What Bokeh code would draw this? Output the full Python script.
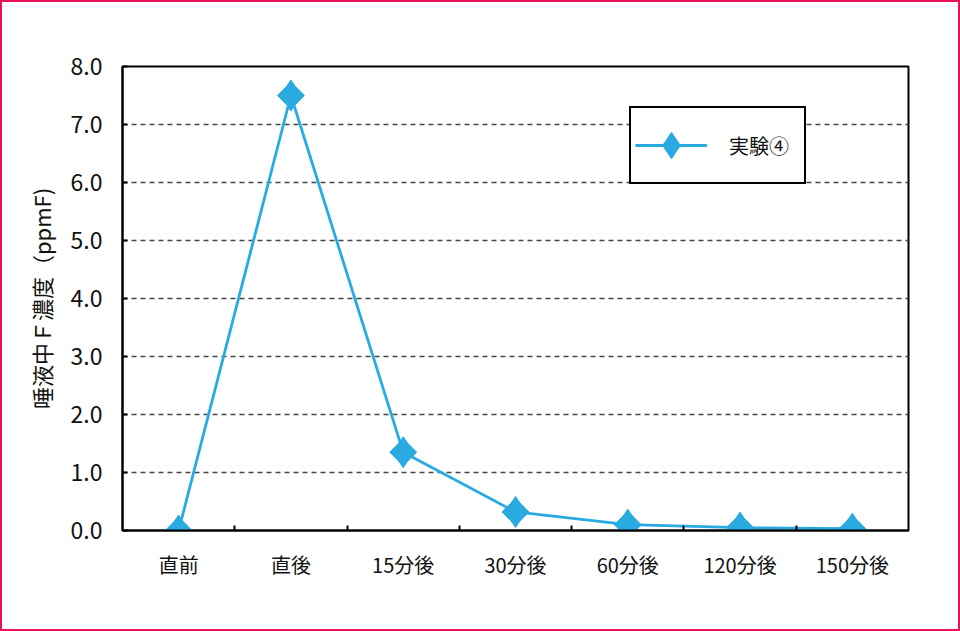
import math
from bokeh.plotting import figure
from bokeh.models import (ColumnDataSource, FixedTicker, Range1d, Legend, LegendItem,
                          NumeralTickFormatter)
from bokeh.embed import file_html
from bokeh.resources import INLINE

categories = ["直前", "直後", "15分後", "30分後", "60分後", "120分後", "150分後"]
values = [0.0, 7.5, 1.35, 0.32, 0.10, 0.05, 0.03]
y_ticks = [0, 1, 2, 3, 4, 5, 6, 7, 8]
series_name = "実験④"

FONT = "Noto Sans CJK JP"
BLUE = "#29ABE2"

xs = [i + 0.5 for i in range(len(categories))]
src = ColumnDataSource(dict(x=xs, y=values))

p = figure(width=960, height=631, output_backend="svg", toolbar_location=None,
           x_range=Range1d(0, len(categories)), y_range=Range1d(0, 8),
           min_border_left=120, min_border_right=54, min_border_top=64,
           min_border_bottom=103)
p.styles = {"border": "2px solid #E8115B", "box-sizing": "border-box"}
p.background_fill_color = "white"
p.border_fill_color = "white"
p.outline_line_color = "black"
p.outline_line_width = 2

line = p.line("x", "y", source=src, line_color=BLUE, line_width=2.8)
pts = p.scatter("x", "y", source=src, marker="square", angle=math.pi / 4, size=19,
                fill_color=BLUE, line_color=BLUE)
dia = p.scatter("x", "y", source=src, marker="diamond", size=31,
                fill_color=BLUE, line_color=BLUE)

# x axis
xa = p.xaxis[0]
xa.ticker = FixedTicker(ticks=xs, minor_ticks=[1, 2, 3, 4, 5, 6])
xa.major_label_overrides = {x: c for x, c in zip(xs, categories)}
xa.major_tick_line_color = None
xa.minor_tick_in = 5
xa.minor_tick_out = 0
xa.minor_tick_line_width = 2
xa.minor_tick_line_color = "black"
xa.axis_line_color = "black"
xa.axis_line_width = 2
xa.major_label_standoff = 13
xa.major_label_text_font = FONT
xa.major_label_text_font_size = "20px"
xa.major_label_text_color = "#111111"

# y axis
ya = p.yaxis[0]
ya.ticker = FixedTicker(ticks=y_ticks)
ya.formatter = NumeralTickFormatter(format="0.0")
ya.major_tick_in = 5
ya.major_tick_out = 0
ya.major_tick_line_width = 2
ya.minor_tick_line_color = None
ya.axis_line_color = "black"
ya.axis_line_width = 2
ya.major_label_standoff = 20
ya.major_label_text_font = FONT
ya.major_label_text_font_size = "23px"
ya.major_label_text_color = "#111111"
ya.axis_label = "唾液中Ｆ濃度（ppmF)"
ya.axis_label_text_font = FONT
ya.axis_label_text_font_size = "22px"
ya.axis_label_text_font_style = "normal"
ya.axis_label_text_color = "#111111"
ya.axis_label_standoff = 11

p.xgrid.grid_line_color = None
p.ygrid.ticker = FixedTicker(ticks=y_ticks[1:-1])
p.ygrid.grid_line_color = "#444444"
p.ygrid.grid_line_width = 1.5
p.ygrid.grid_line_dash = "5 4"

legend = Legend(items=[LegendItem(label=series_name, renderers=[line, dia])],
                location=(507, 346), margin=0, padding=4,
                glyph_width=72, glyph_height=66, label_standoff=22, label_width=71,
                label_text_font=FONT, label_text_font_size="20px",
                label_text_color="#111111",
                border_line_color="black", border_line_width=2, border_line_alpha=1,
                background_fill_color="white", background_fill_alpha=1)
p.add_layout(legend, "center")

open("out.html", "w").write(file_html(p, INLINE))
